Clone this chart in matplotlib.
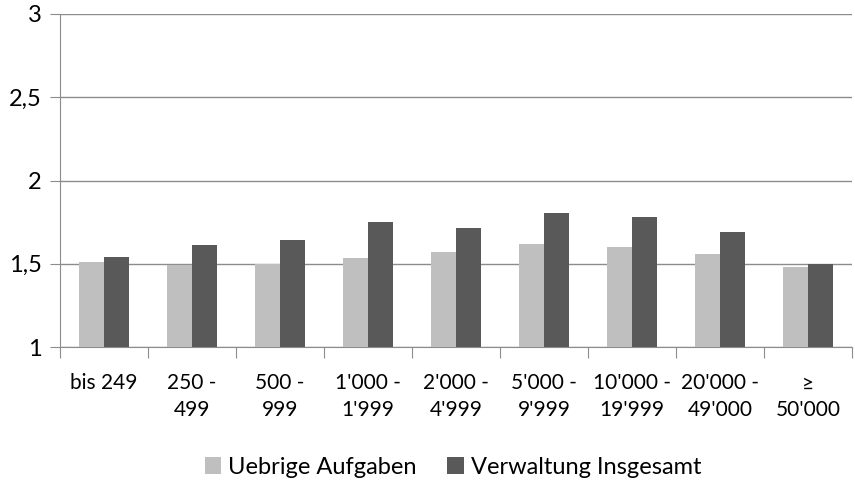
import matplotlib.pyplot as plt
import numpy as np

plt.rcParams['font.family'] = ['Lato', 'DejaVu Sans']

# Kategorien (Gemeindegrösse) und Werte
categories = ["bis 249", "250 -\n499", "500 -\n999", "1'000 -\n1'999", "2'000 -\n4'999",
              "5'000 -\n9'999", "10'000 -\n19'999", "20'000 -\n49'000", "≥\n50'000"]
uebrige = [1.51, 1.49, 1.50, 1.535, 1.57, 1.62, 1.60, 1.56, 1.48]
verwaltung = [1.54, 1.615, 1.64, 1.75, 1.715, 1.805, 1.78, 1.69, 1.50]

fig = plt.figure(figsize=(8.55, 4.82), dpi=100)
ax = fig.add_axes([60 / 855, 1 - 347 / 482, 792 / 855, 333 / 482])

x = np.arange(len(categories))
w = 0.285
ax.bar(x - w / 2, [v - 1 for v in uebrige], w, bottom=1, color='#bfbfbf', label="Uebrige Aufgaben", zorder=3)
ax.bar(x + w / 2, [v - 1 for v in verwaltung], w, bottom=1, color='#595959', label="Verwaltung Insgesamt", zorder=3)

ax.set_xlim(-0.5, len(categories) - 0.5)
ax.set_ylim(1, 3)
ax.set_yticks([1, 1.5, 2, 2.5, 3])
ax.set_yticklabels(["1", "1,5", "2", "2,5", "3"])
ax.yaxis.grid(True, color='#8c8c8c', linewidth=1, zorder=0)

# Trennstriche zwischen den Kategorien
ax.set_xticks(np.arange(-0.5, len(categories)), minor=False)
ax.set_xticklabels([])
ax.set_xticks(x, minor=True)
ax.set_xticklabels(categories, minor=True, linespacing=1.4)
ax.tick_params(axis='x', which='major', length=8, color='#8c8c8c', direction='out')
ax.tick_params(axis='x', which='minor', length=0, pad=19, labelsize=15)
ax.tick_params(axis='y', length=7, color='#8c8c8c', labelsize=17, pad=6)

for s in ['top', 'right']:
    ax.spines[s].set_visible(False)
for s in ['left', 'bottom']:
    ax.spines[s].set_color('#8c8c8c')

fig.legend(loc='center', bbox_to_anchor=(0.53, 1 - 467 / 482), ncol=2, frameon=False,
           fontsize=17, handlelength=0.7, handleheight=0.7, handletextpad=0.3, columnspacing=1.3)

plt.savefig("out.png", dpi=100)
